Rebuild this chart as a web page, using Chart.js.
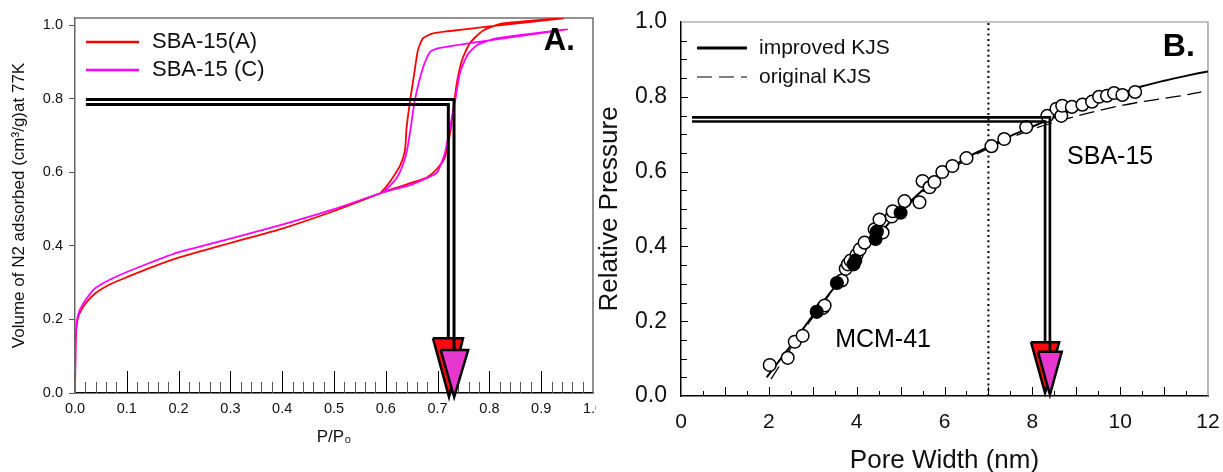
<!DOCTYPE html>
<html>
<head>
<meta charset="utf-8">
<title>SBA-15 isotherms and KJS pore widths</title>
<script src="https://cdn.jsdelivr.net/npm/chart.js@4.4.1/dist/chart.umd.min.js"></script>
<style>
  html, body { margin: 0; padding: 0; background: #fff; }
  #wrap { position: relative; width: 1223px; height: 472px; overflow: hidden; }
  #isotherm { position: absolute; left: 0; top: 0; }
  #kjs { position: absolute; left: 597px; top: 0; }
</style>
</head>
<body>
<div id="wrap">
  <canvas id="isotherm" width="596" height="472"></canvas>
  <canvas id="kjs" width="626" height="472"></canvas>
</div>
<script>
// ---- Panel A: N2 isotherms (adsorption up, then desorption back down) ----
var sbaAPressure = [0, 0.001, 0.003, 0.006, 0.01, 0.02, 0.04, 0.07, 0.1, 0.15, 0.2, 0.3, 0.4, 0.5, 0.589, 0.62, 0.65, 0.68, 0.699, 0.714, 0.724, 0.73, 0.737, 0.747, 0.762, 0.788, 0.826, 0.942,
  0.8, 0.72, 0.691, 0.672, 0.662, 0.655, 0.647, 0.64, 0.637, 0.628, 0.614, 0.6, 0.589];
var sbaAVolume = [0, 0.12, 0.18, 0.205, 0.22, 0.243, 0.272, 0.297, 0.315, 0.343, 0.368, 0.408, 0.447, 0.495, 0.543, 0.558, 0.572, 0.587, 0.61, 0.641, 0.706, 0.769, 0.842, 0.905, 0.951, 0.986, 1.005, 1.019,
  0.997, 0.984, 0.978, 0.965, 0.932, 0.87, 0.796, 0.72, 0.66, 0.62, 0.587, 0.56, 0.543];
var sbaCPressure = [0, 0.001, 0.003, 0.006, 0.01, 0.02, 0.035, 0.05, 0.07, 0.1, 0.15, 0.2, 0.3, 0.4, 0.5, 0.595, 0.65, 0.68, 0.699, 0.714, 0.724, 0.734, 0.743, 0.757, 0.776, 0.815, 0.95,
  0.8, 0.699, 0.685, 0.672, 0.656, 0.648, 0.641, 0.633, 0.622, 0.607, 0.595];
var sbaCVolume = [0, 0.13, 0.19, 0.212, 0.228, 0.252, 0.28, 0.295, 0.31, 0.329, 0.357, 0.383, 0.42, 0.458, 0.5, 0.546, 0.567, 0.585, 0.6, 0.652, 0.723, 0.796, 0.87, 0.918, 0.946, 0.965, 0.989,
  0.959, 0.937, 0.927, 0.886, 0.796, 0.72, 0.66, 0.62, 0.587, 0.562, 0.546];

// arrows in panel A (shaft path, then head outline)
var shaftARedX = [0.021, 0.7207, 0.7207];
var shaftARedY = [0.785, 0.785, 0.149];
var shaftAMagX = [0.021, 0.7317, 0.7317];
var shaftAMagY = [0.798, 0.798, 0.117];
var headARedX = [0.691, 0.749, 0.722, 0.691];
var headARedY = [0.149, 0.149, -0.011, 0.149];
var headAMagX = [0.706, 0.759, 0.732, 0.706];
var headAMagY = [0.117, 0.117, -0.011, 0.117];

var isoTicksX = [0, 0.1, 0.2, 0.3, 0.4, 0.5, 0.6, 0.7, 0.8, 0.9, 1.0];
var isoTicksY = [0, 0.2, 0.4, 0.6, 0.8, 1.0];

// ---- Panel B: relative pressure vs pore width ----
var improvedWidth = [1.95, 2.5, 3, 3.5, 4, 4.5, 5, 5.5, 6, 6.5, 7, 7.5, 8, 8.5, 9, 9.5, 10, 10.5, 11, 11.5, 12];
var improvedPressure = [0.05, 0.135, 0.215, 0.292, 0.365, 0.432, 0.495, 0.55, 0.598, 0.637, 0.666, 0.695, 0.72, 0.745, 0.768, 0.789, 0.808, 0.828, 0.843, 0.856, 0.868];
var originalWidth = [2.05, 2.5, 3, 3.5, 4, 4.5, 5, 5.5, 6, 6.5, 7, 7.5, 8, 8.5, 9, 9.5, 10, 10.5, 11, 11.5, 11.85];
var originalPressure = [0.045, 0.128, 0.21, 0.29, 0.363, 0.43, 0.49, 0.545, 0.592, 0.632, 0.662, 0.69, 0.713, 0.732, 0.748, 0.763, 0.776, 0.787, 0.796, 0.805, 0.813];

var openWidth = [2.02, 2.43, 2.59, 2.77, 3.23, 3.27, 3.66, 3.75, 3.8, 3.86, 4.0, 4.07, 4.18, 4.41, 4.52, 4.59, 4.8, 4.82, 5.09, 5.43, 5.5, 5.66, 5.77, 5.95, 6.18, 6.5, 7.07, 7.36, 7.86, 8.34, 8.55, 8.66, 8.68, 8.9, 9.14, 9.36, 9.52, 9.7, 9.86, 10.05, 10.34];
var openPressure = [0.083, 0.102, 0.145, 0.161, 0.235, 0.242, 0.309, 0.34, 0.352, 0.362, 0.378, 0.392, 0.41, 0.446, 0.472, 0.437, 0.48, 0.494, 0.521, 0.518, 0.575, 0.558, 0.572, 0.599, 0.615, 0.636, 0.668, 0.687, 0.719, 0.749, 0.768, 0.749, 0.776, 0.773, 0.779, 0.787, 0.8, 0.803, 0.81, 0.805, 0.813];
var filledWidth = [3.09, 3.55, 3.93, 3.97, 4.43, 4.46, 5.0];
var filledPressure = [0.225, 0.302, 0.352, 0.362, 0.42, 0.44, 0.49];

var dividerWidth = [7, 7];
var dividerPressure = [0, 1];

var shaftBRedX = [0.25, 8.29, 8.29];
var shaftBRedY = [0.734, 0.734, 0.144];
var shaftBMagX = [0.25, 8.4, 8.4];
var shaftBMagY = [0.745, 0.745, 0.118];
var headBRedX = [7.97, 8.61, 8.29, 7.97];
var headBRedY = [0.144, 0.144, 0.008, 0.144];
var headBMagX = [8.13, 8.67, 8.4, 8.13];
var headBMagY = [0.118, 0.118, 0.003, 0.118];

var poreTicksX = [0, 2, 4, 6, 8, 10, 12];
var poreTicksY = [0, 0.2, 0.4, 0.6, 0.8, 1.0];

var FONT = "'Liberation Sans', Arial, Helvetica, sans-serif";
Chart.defaults.font.family = FONT;
Chart.defaults.color = '#111';

function pairs(xs, ys) {
    return xs.map(function(x, i) { return {x: x, y: ys[i]}; });
}

function lineSet(label, xs, ys, color, width, order, extra) {
    var ds = {
        label: label,
        data: pairs(xs, ys),
        showLine: true,
        borderColor: color,
        borderWidth: width,
        pointRadius: 0,
        pointHoverRadius: 0,
        fill: false,
        tension: 0,
        order: order
    };
    return Object.assign(ds, extra || {});
}

function headSet(label, xs, ys, color, order) {
    return lineSet(label, xs, ys, '#000', 2.5, order, {
        fill: 'shape',
        backgroundColor: color,
        borderJoinStyle: 'miter',
        clip: false
    });
}

// frame on top/right and inward tick marks
var frameTicks = {
    id: 'frameTicks',
    beforeDatasetsDraw: function(chart, args, opts) {
        var ctx = chart.ctx, a = chart.chartArea;
        var xs = chart.scales.x, ys = chart.scales.y;
        ctx.save();
        ctx.strokeStyle = opts.frameColor;
        ctx.lineWidth = opts.frameWidth;
        ctx.beginPath();
        ctx.moveTo(a.left, a.top);
        ctx.lineTo(a.right, a.top);
        ctx.lineTo(a.right, a.bottom);
        ctx.stroke();
        ctx.lineWidth = 1;

        function run(scale, spec, horizontal) {
            if (!spec) {
                return;
            }
            var n = Math.round((scale.max - scale.min) / spec.step);
            for (var i = 1; i < n; i++) {
                var major = i % spec.majorEvery === 0;
                var len = major ? spec.major : spec.minor;
                var p = Math.round(scale.getPixelForValue(scale.min + i * spec.step)) + 0.5;
                ctx.strokeStyle = major ? opts.majorColor : opts.minorColor;
                ctx.beginPath();
                if (horizontal) {
                    ctx.moveTo(p, a.bottom);
                    ctx.lineTo(p, a.bottom - len);
                } else {
                    ctx.moveTo(a.left, p);
                    ctx.lineTo(a.left + len, p);
                }
                ctx.stroke();
            }
        }
        run(xs, opts.x, true);
        run(ys, opts.y, false);
        ctx.restore();
    }
};

// legend inside the plot plus free text labels
var insetText = {
    id: 'insetText',
    afterDraw: function(chart, args, opts) {
        var ctx = chart.ctx, a = chart.chartArea;
        ctx.save();
        ctx.textBaseline = 'middle';
        ctx.textAlign = 'left';
        var lg = opts.legend;
        if (lg) {
            ctx.font = lg.font;
            lg.items.forEach(function(label, i) {
                var ds = chart.data.datasets.find(function(d) { return d.label === label; });
                var y = a.top + lg.y + i * lg.gap;
                ctx.strokeStyle = ds.borderColor;
                ctx.lineWidth = ds.legendWidth || ds.borderWidth;
                ctx.setLineDash(ds.borderDash || []);
                ctx.beginPath();
                ctx.moveTo(a.left + lg.x, y);
                ctx.lineTo(a.left + lg.x + lg.length, y);
                ctx.stroke();
                ctx.setLineDash([]);
                ctx.fillStyle = '#111';
                ctx.fillText(label, a.left + lg.textX, y);
            });
        }
        (opts.texts || []).forEach(function(t) {
            ctx.font = t.font;
            ctx.fillStyle = '#000';
            ctx.fillText(t.text, chart.scales.x.getPixelForValue(t.x), chart.scales.y.getPixelForValue(t.y));
        });
        ctx.restore();
    }
};

function fixBox(width, height) {
    return function(scale) {
        if (width !== null) {
            scale.width = width;
        }
        if (height !== null) {
            scale.height = height;
        }
        scale.paddingLeft = 0;
        scale.paddingRight = 0;
        scale.paddingTop = 0;
        scale.paddingBottom = 0;
    };
}

// ---- Panel A chart ----
new Chart(document.getElementById('isotherm'), {
    type: 'scatter',
    data: {
        datasets: [
            headSet('head C', headAMagX, headAMagY, '#e637cf', 0),
            lineSet('shaft C', shaftAMagX, shaftAMagY, '#000', 3, 1, {borderJoinStyle: 'miter'}),
            headSet('head A', headARedX, headARedY, '#ff0a0a', 2),
            lineSet('shaft A', shaftARedX, shaftARedY, '#000', 3, 3, {borderJoinStyle: 'miter'}),
            lineSet('SBA-15 (C)', sbaCPressure, sbaCVolume, '#ff00ff', 1.8, 4, {tension: 0.2, legendWidth: 2.5}),
            lineSet('SBA-15(A)', sbaAPressure, sbaAVolume, '#ff0000', 1.8, 5, {tension: 0.2, legendWidth: 2.5})
        ]
    },
    options: {
        responsive: false,
        animation: false,
        events: [],
        layout: {padding: {left: 9, right: 3, top: 18, bottom: 24}},
        scales: {
            x: {
                type: 'linear',
                min: 0,
                max: 1,
                afterBuildTicks: function(s) { s.ticks = isoTicksX.map(function(v) { return {value: v}; }); },
                afterFit: fixBox(null, 55),
                grid: {display: false, drawTicks: false},
                border: {color: '#000', width: 1.5},
                ticks: {autoSkip: false, maxRotation: 0, padding: 7, font: {size: 14.5},
                    callback: function(v) { return v.toFixed(1); }},
                title: {display: true, text: 'P/P\u2080', font: {size: 17}, padding: {top: 0, bottom: 0}}
            },
            y: {
                type: 'linear',
                min: 0,
                max: 1.02,
                afterBuildTicks: function(s) { s.ticks = isoTicksY.map(function(v) { return {value: v}; }); },
                afterFit: fixBox(66, null),
                grid: {drawOnChartArea: false, drawTicks: true, tickLength: 6, color: '#555'},
                border: {color: '#666', width: 1.5},
                ticks: {autoSkip: false, padding: 6, font: {size: 14.5},
                    callback: function(v) { return v.toFixed(1); }},
                title: {display: true, text: 'Volume of N2 adsorbed (cm\u00b3/g)at 77K', font: {size: 17}, padding: {top: 0, bottom: 0}}
            }
        },
        plugins: {
            legend: {display: false},
            tooltip: {enabled: false},
            frameTicks: {
                frameColor: '#6f6f6f', frameWidth: 1.5, majorColor: '#000', minorColor: '#555',
                x: {step: 0.02, majorEvery: 5, major: 22, minor: 11}
            },
            insetText: {
                legend: {items: ['SBA-15(A)', 'SBA-15 (C)'], x: 11, y: 24, gap: 28, length: 53, textX: 77,
                    font: '22px ' + FONT},
                texts: [{text: 'A.', x: 0.905, y: 0.955, font: 'bold 31px ' + FONT}]
            }
        }
    },
    plugins: [frameTicks, insetText]
});

// ---- Panel B chart ----
new Chart(document.getElementById('kjs'), {
    type: 'scatter',
    data: {
        datasets: [
            headSet('head C', headBMagX, headBMagY, '#e637cf', 0),
            lineSet('shaft C', shaftBMagX, shaftBMagY, '#000', 2.7, 1, {borderJoinStyle: 'miter'}),
            headSet('head A', headBRedX, headBRedY, '#ff0a0a', 2),
            lineSet('shaft A', shaftBRedX, shaftBRedY, '#000', 2.7, 3, {borderJoinStyle: 'miter'}),
            {
                label: 'filled', data: pairs(filledWidth, filledPressure), order: 4,
                pointRadius: 6.3, pointHoverRadius: 6.3, backgroundColor: '#000', borderColor: '#000', borderWidth: 1.5
            },
            {
                label: 'open', data: pairs(openWidth, openPressure), order: 5,
                pointRadius: 6.3, pointHoverRadius: 6.3, backgroundColor: '#fff', borderColor: '#000', borderWidth: 1.5
            },
            lineSet('improved KJS', improvedWidth, improvedPressure, '#000', 2, 6, {tension: 0.3, legendWidth: 3}),
            lineSet('original KJS', originalWidth, originalPressure, '#000', 1.3, 7, {tension: 0.3, borderDash: [15, 7], legendWidth: 1.2}),
            lineSet('divider', dividerWidth, dividerPressure, '#000', 2, 8, {borderDash: [2, 3.3]})
        ]
    },
    options: {
        responsive: false,
        animation: false,
        events: [],
        layout: {padding: {left: 0, right: 15, top: 22, bottom: 0}},
        scales: {
            x: {
                type: 'linear',
                min: 0,
                max: 12,
                afterBuildTicks: function(s) { s.ticks = poreTicksX.map(function(v) { return {value: v}; }); },
                afterFit: fixBox(null, 76),
                grid: {display: false, drawTicks: false},
                border: {color: '#000', width: 1.5},
                ticks: {autoSkip: false, maxRotation: 0, padding: 14, font: {size: 21}},
                title: {display: true, text: 'Pore Width (nm)', font: {size: 26, lineHeight: 1}, padding: {top: 0, bottom: -2}}
            },
            y: {
                type: 'linear',
                min: 0,
                max: 1,
                afterBuildTicks: function(s) { s.ticks = poreTicksY.map(function(v) { return {value: v}; }); },
                afterFit: fixBox(84, null),
                grid: {display: false, drawTicks: false},
                border: {color: '#000', width: 1.5},
                ticks: {autoSkip: false, padding: 14, font: {size: 23},
                    callback: function(v) { return v.toFixed(1); }},
                title: {display: true, text: 'Relative Pressure', font: {size: 26, lineHeight: 1}, padding: {top: 0, bottom: 0}}
            }
        },
        plugins: {
            legend: {display: false},
            tooltip: {enabled: false},
            frameTicks: {
                frameColor: '#8a8a8a', frameWidth: 1.2, majorColor: '#000', minorColor: '#000',
                x: {step: 0.5, majorEvery: 2, major: 9, minor: 5},
                y: {step: 0.05, majorEvery: 4, major: 7, minor: 6}
            },
            insetText: {
                legend: {items: ['improved KJS', 'original KJS'], x: 16, y: 26, gap: 29, length: 50, textX: 78,
                    font: '21px ' + FONT},
                texts: [
                    {text: 'B.', x: 10.97, y: 0.933, font: 'bold 32px ' + FONT},
                    {text: 'MCM-41', x: 3.51, y: 0.15, font: '25px ' + FONT},
                    {text: 'SBA-15', x: 8.79, y: 0.639, font: '25px ' + FONT}
                ]
            }
        }
    },
    plugins: [frameTicks, insetText]
});
</script>
</body>
</html>
